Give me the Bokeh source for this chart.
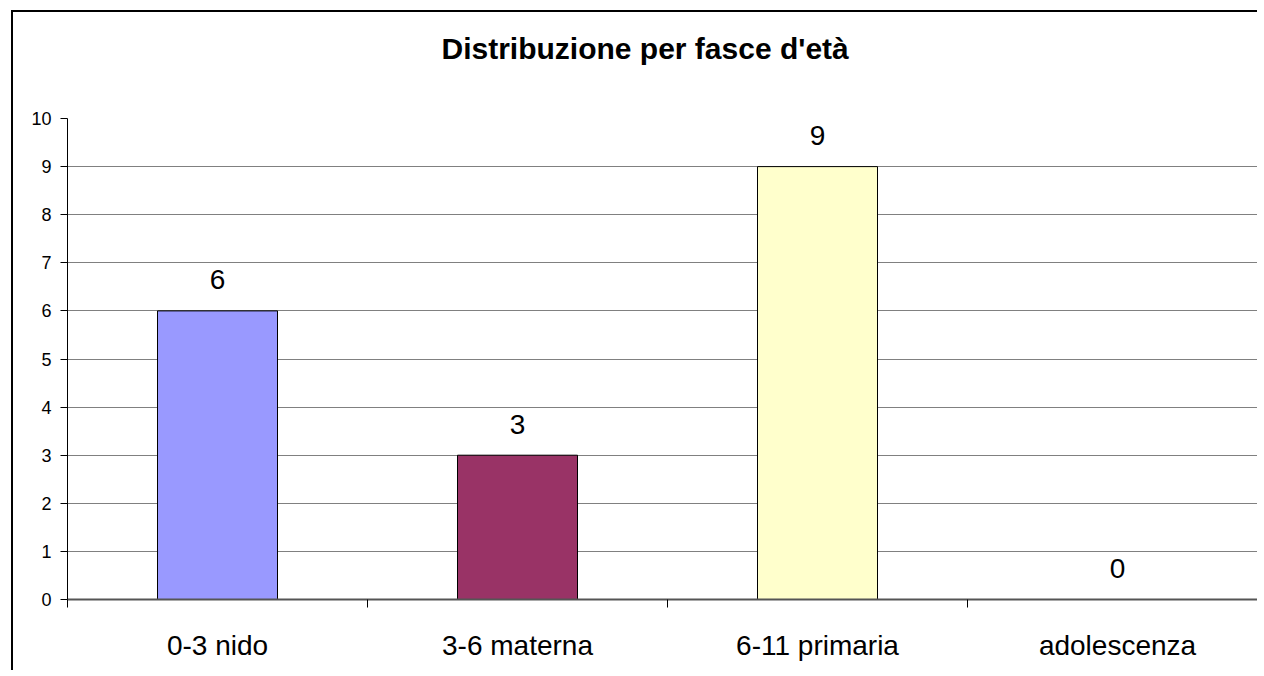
from bokeh.plotting import figure
from bokeh.models import Range1d, FixedTicker, Title
from bokeh.core.properties import value
from bokeh.embed import file_html
from bokeh.resources import INLINE

title_text = "Distribuzione per fasce d'età"
categories = ["0-3 nido", "3-6 materna", "6-11 primaria", "adolescenza"]
counts = [6, 3, 9, 0]
bar_colors = ["#9999FF", "#993366", "#FFFFCC", "#CCFFFF"]
y_ticks = list(range(0, 11))

FONT = "Liberation Sans"
xs = [i + 0.5 for i in range(len(categories))]

p = figure(width=1246, height=660, output_backend="svg", toolbar_location=None,
           x_range=Range1d(0, 3.9733), y_range=Range1d(0, 10),
           min_border_left=54, min_border_top=106, min_border_bottom=73, min_border_right=0)
p.styles = {"margin-left": "11px", "margin-top": "10px",
            "border-left": "2px solid black", "border-top": "2px solid black"}

# spacer between frame and title
spacer = Title(text=" ", text_font=FONT, text_font_size="10px", standoff=36)
p.add_layout(spacer, "above")
main_title = Title(text=title_text, text_font=FONT, text_font_size="30px",
                   text_font_style="bold", text_color="black", align="left",
                   offset=374, standoff=10)
p.add_layout(main_title, "above")

p.background_fill_color = "white"
p.border_fill_color = "white"
p.outline_line_color = None

p.xgrid.grid_line_color = None
p.ygrid.grid_line_color = "#808080"
p.ygrid.grid_line_width = 1
p.ygrid.ticker = FixedTicker(ticks=y_ticks)

p.vbar(x=xs, top=counts, width=0.4, fill_color=bar_colors, line_color="black", line_width=1)

p.text(x=xs, y=counts, text=[str(v) for v in counts], text_align="center",
       text_baseline="alphabetic", y_offset=-31, text_font=value(FONT),
       text_font_size="28px", text_color="black")

xa = p.xaxis[0]
xa.ticker = FixedTicker(ticks=xs, minor_ticks=list(range(len(categories))))
xa.major_label_overrides = {x: c for x, c in zip(xs, categories)}
xa.major_tick_line_color = None
xa.major_tick_out = 0
xa.major_tick_in = 0
xa.minor_tick_line_color = "black"
xa.minor_tick_out = 8
xa.minor_tick_in = 0
xa.axis_line_color = "#555555"
xa.axis_line_width = 2
xa.major_label_text_font = FONT
xa.major_label_text_font_size = "28px"
xa.major_label_text_color = "black"
xa.major_label_standoff = 22

ya = p.yaxis[0]
ya.ticker = FixedTicker(ticks=y_ticks)
ya.axis_line_color = "black"
ya.axis_line_width = 1
ya.major_tick_line_color = "black"
ya.major_tick_out = 7
ya.major_tick_in = 0
ya.minor_tick_line_color = None
ya.major_label_text_font = FONT
ya.major_label_text_font_size = "18px"
ya.major_label_text_color = "black"
ya.major_label_standoff = 9

open("out.html", "w").write(file_html(p, INLINE))
